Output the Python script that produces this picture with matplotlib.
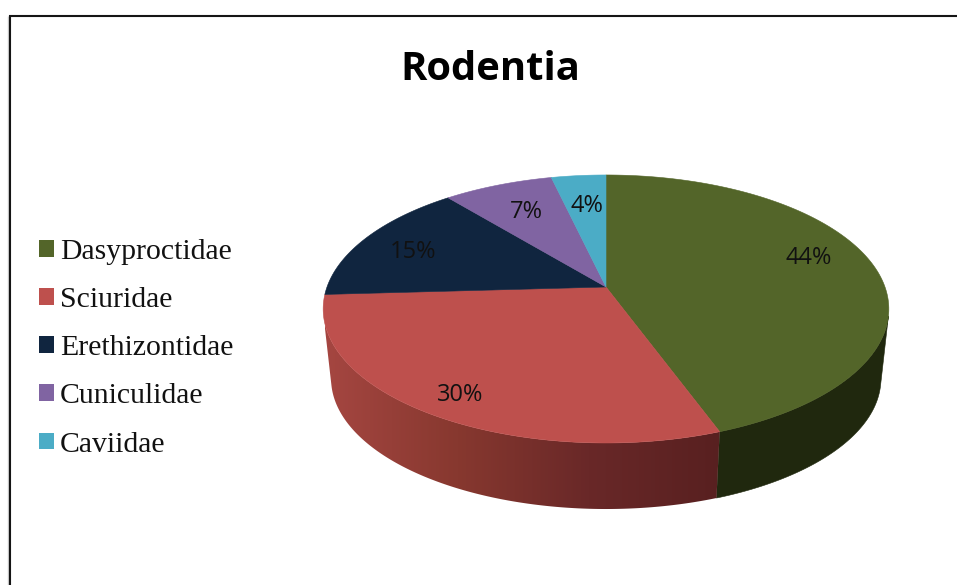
import numpy as np
import matplotlib
matplotlib.use('Agg')
import matplotlib.pyplot as plt
from matplotlib.colors import LinearSegmentedColormap
from matplotlib.patches import Patch, Polygon

# Data
families = ['Dasyproctidae', 'Sciuridae', 'Erethizontidae', 'Cuniculidae', 'Caviidae']
shares = [44.4, 29.7, 14.9, 7.35, 3.65]
colors = ['#536529', '#BE504D', '#10253F', '#8064A2', '#4BACC6']
title = 'Rodentia'

# Pie geometry in pixels
cx, cy = 606, 287
a, c, k = 279, 130.4, 0.164
shrink, depth = 0.972, 70.4


def top_edge(theta):
    x, y = np.sin(theta), -np.cos(theta)
    den = 1 - k * y
    return a * x / den, c * y / den


def bottom_edge(theta):
    X, Y = top_edge(theta)
    return cx + shrink * X, cy + shrink * Y + depth


def wall(t0, t1):
    th = np.linspace(t0, t1, 200)
    X, Y = top_edge(th)
    bx, by = bottom_edge(th)
    return list(zip(cx + X, cy + Y)) + list(zip(bx[::-1], by[::-1]))


def tangent_angle(lo, hi):
    # angle where the wall edge runs along the outline of the top face
    th = np.radians(np.linspace(lo, hi, 2000))
    X, Y = top_edge(th)
    bx, by = bottom_edge(th)
    cross = (bx - cx - X) * np.gradient(Y, th) - (by - cy - Y) * np.gradient(X, th)
    return th[np.argmin(np.abs(cross))]


fig = plt.figure(figsize=(9.57, 5.85), dpi=100)
ax = fig.add_axes([0, 0, 1, 1])

# Slice limits from the values
stops = np.radians(np.cumsum([0] + shares) * 3.6)
right_end = tangent_angle(70, 130)
left_end = tangent_angle(230, 290)

# Side wall: green is flat, red gets a left to right shading
ax.add_patch(Polygon(wall(right_end, stops[1]), closed=True, facecolor='#20280E',
                     edgecolor='#20280E', lw=0.4, zorder=1))
red_poly = Polygon(wall(stops[1], left_end), closed=True, facecolor='none', edgecolor='none', zorder=1)
ax.add_patch(red_poly)
shade = LinearSegmentedColormap.from_list('shade', ['#A54641', '#87382F', '#692828', '#582020'])
img = ax.imshow(np.linspace(0, 1, 256)[None, :], extent=(325, 722, 520, 280), cmap=shade,
                aspect='auto', zorder=1, interpolation='bilinear')
img.set_clip_path(red_poly)

# Top face
for i, col in enumerate(colors):
    th = np.linspace(stops[i], stops[i + 1], 200)
    X, Y = top_edge(th)
    pts = [(cx, cy)] + list(zip(cx + X, cy + Y))
    ax.add_patch(Polygon(pts, closed=True, facecolor=col, edgecolor=col, lw=0.4, zorder=2))

# Percent labels
label_xy = [(809, 258), (460, 395), (413, 252), (526, 212), (587, 206)]
for v, (lx, ly) in zip(shares, label_xy):
    ax.text(lx, ly, f'{v:.0f}%', ha='center', va='center', fontsize=17,
            family='Open Sans', color='#111111', zorder=3)

ax.text(490, 70, title, ha='center', va='center', fontsize=28.8, fontweight='bold',
        family='Open Sans', color='black')

# Legend
handles = [Patch(facecolor=col, edgecolor='none') for col in colors]
fs = 21.4
leg = ax.legend(handles, families, loc='upper left', bbox_to_anchor=(39, 239),
                bbox_transform=ax.transData, frameon=False, borderpad=0, borderaxespad=0,
                handlelength=0.5, handleheight=0.5, handletextpad=0.2, labelspacing=0.745,
                prop={'family': 'Liberation Serif', 'size': fs})
for txt in leg.get_texts():
    txt.set_color('#111111')

# Frame of the picture, cut at the right and bottom
ax.plot([8.2, 8.2], [16, 585], color='#cccccc', lw=1, solid_capstyle='butt')
ax.plot([10, 10, 957], [585, 15.7, 15.7], color='#151515', lw=1.5,
        solid_joinstyle='miter', solid_capstyle='butt')

ax.set_xlim(0, 957)
ax.set_ylim(585, 0)
ax.axis('off')

fig.savefig('out.png', dpi=100)
